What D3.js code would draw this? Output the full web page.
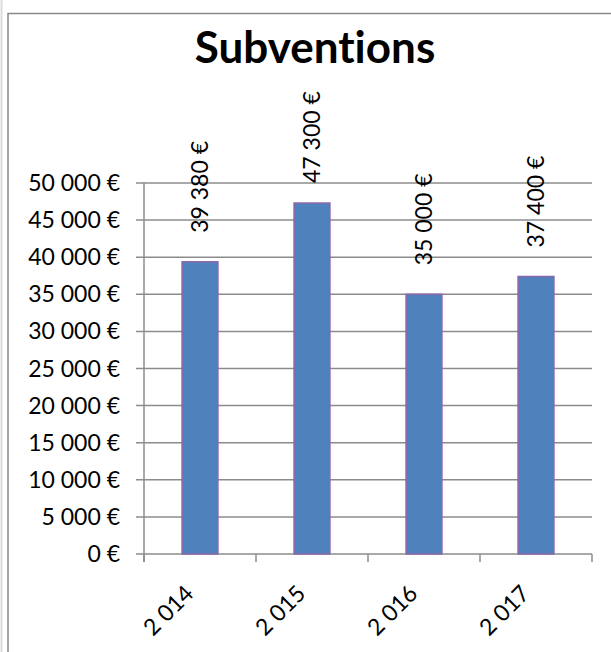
<!DOCTYPE html>
<html>
<head>
<meta charset="utf-8">
<script src="https://cdn.jsdelivr.net/npm/d3@7"></script>
<style>
  body { margin: 0; background: #fff; }
  svg { display: block; font-family: Lato, "Liberation Sans", sans-serif; font-variant-ligatures: none; }
</style>
</head>
<body>
<div class="chart"></div>
<script>
const title = "Subventions";
const years = [2014, 2015, 2016, 2017];
const amounts = [39380, 47300, 35000, 37400];
const yTicks = [0, 5000, 10000, 15000, 20000, 25000, 30000, 35000, 40000, 45000, 50000];

const width = 611,
  height = 652;

// french style: space as thousands separator
const fr = d3.formatLocale({ decimal: ",", thousands: " ", grouping: [3], currency: ["", " €"] });
const fmtEuro = (v) => fr.format(",")(v) + " €";
const fmtYear = fr.format(",");

const svg = d3
  .select(".chart")
  .append("svg")
  .attr("width", width)
  .attr("height", height);

// outer frame of the chart area
svg.append("line")
  .attr("x1", 1.5).attr("x2", 1.5).attr("y1", 0).attr("y2", height)
  .attr("stroke", "#dcdcdc").attr("stroke-width", 2);
svg.append("path")
  .attr("d", "M8," + height + "V13.5H" + width)
  .attr("fill", "none")
  .attr("stroke", "#898989")
  .attr("stroke-width", 1.5);

svg.append("text")
  .attr("x", 315)
  .attr("y", 63)
  .attr("text-anchor", "middle")
  .attr("font-weight", "bold")
  .attr("font-size", 44)
  .text(title);

const plotLeft = 144, plotRight = 592, plotTop = 183, plotBottom = 554;

const x = d3.scaleBand()
  .domain(years)
  .range([plotLeft, plotRight])
  .paddingInner(0.68)
  .paddingOuter(0.34);

const y = d3.scaleLinear()
  .domain([0, 50000])
  .range([plotBottom, plotTop]);

// gridlines
svg.append("g")
  .selectAll("line")
  .data(yTicks)
  .join("line")
  .attr("x1", plotLeft - 8)
  .attr("x2", plotRight)
  .attr("y1", (d) => y(d))
  .attr("y2", (d) => y(d))
  .attr("stroke", "#8c8c8c")
  .attr("stroke-width", 1.5);

// y axis line
svg.append("line")
  .attr("x1", plotLeft).attr("x2", plotLeft)
  .attr("y1", plotTop).attr("y2", plotBottom + 8)
  .attr("stroke", "#8c8c8c").attr("stroke-width", 1.5);

// x ticks at category boundaries
const step = (plotRight - plotLeft) / years.length;
svg.append("g")
  .selectAll("line")
  .data(d3.range(years.length + 1))
  .join("line")
  .attr("x1", (i) => plotLeft + i * step)
  .attr("x2", (i) => plotLeft + i * step)
  .attr("y1", plotBottom)
  .attr("y2", plotBottom + 8)
  .attr("stroke", "#8c8c8c")
  .attr("stroke-width", 1.5);

// y tick labels
svg.append("g")
  .selectAll("text")
  .data(yTicks)
  .join("text")
  .attr("x", 120)
  .attr("y", (d) => y(d))
  .attr("dy", "0.35em")
  .attr("text-anchor", "end")
  .attr("font-size", 23)
  .text((d) => fmtEuro(d));

// bars
const data = years.map((d, i) => ({ year: d, value: amounts[i] }));
svg.append("g")
  .selectAll("rect")
  .data(data)
  .join("rect")
  .attr("x", (d) => x(d.year))
  .attr("y", (d) => y(d.value))
  .attr("width", x.bandwidth())
  .attr("height", (d) => y(0) - y(d.value))
  .attr("fill", "#4f81bd")
  .attr("stroke", "#8a67ab")
  .attr("stroke-width", 1.5);

// value labels, rotated, kept below the title
const labelLen = 91;
svg.append("g")
  .selectAll("text")
  .data(data)
  .join("text")
  .attr("transform", (d) => {
    let start = y(d.value) - 29;
    if (start - labelLen < 92) start = 92 + labelLen;
    return "translate(" + (x(d.year) + x.bandwidth() / 2) + "," + start + ") rotate(-90)";
  })
  .attr("dy", "0.35em")
  .attr("font-size", 23)
  .text((d) => fmtEuro(d.value));

// year labels
svg.append("g")
  .selectAll("text")
  .data(years)
  .join("text")
  .attr("transform", (d) => "translate(" + (x(d) + x.bandwidth() / 2 - 5) + "," + (plotBottom + 41) + ") rotate(-45)")
  .attr("text-anchor", "end")
  .attr("font-size", 23)
  .text((d) => fmtYear(d));
</script>
</body>
</html>
